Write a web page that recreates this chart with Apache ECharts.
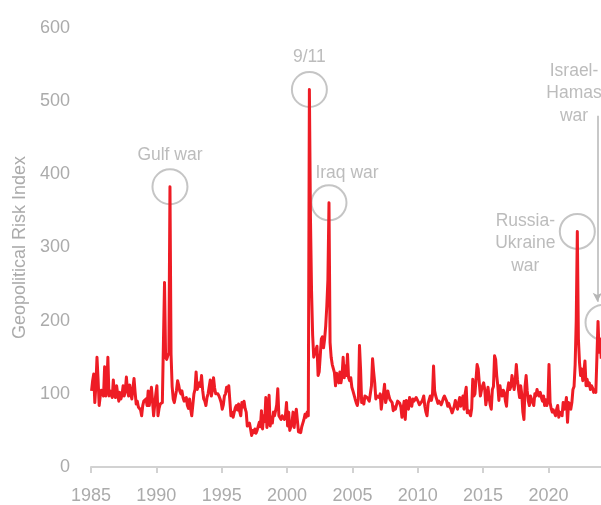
<!DOCTYPE html>
<html>
<head>
<meta charset="utf-8">
<title>Geopolitical Risk Index</title>
<script src="https://cdn.jsdelivr.net/npm/echarts@6/dist/echarts.min.js"></script>
<style>
  html, body { margin: 0; padding: 0; background: #ffffff; }
  #chart { width: 601px; height: 505px; }
</style>
</head>
<body>
<div id="chart"></div>
<script>
// Monthly Geopolitical Risk Index, Jan 1985 onward (one block per five years)
const gpr1985to1989 = [
  104, 118, 127, 88, 112, 150, 120, 84, 97, 105, 100, 97,
  137, 97, 110, 150, 97, 104, 106, 95, 119, 98, 95, 111,
  100, 90, 102, 93, 99, 111, 97, 105, 123, 104, 97, 112,
  100, 93, 108, 121, 102, 86, 90, 82, 84, 78, 70, 84,
  90, 88, 93, 84, 104, 84, 95, 109, 90, 70, 85, 100
];
const gpr1990to1994 = [
  111, 70, 80, 86, 84, 88, 86, 252, 150, 147, 152, 156,
  383, 154, 110, 93, 88, 90, 105, 118, 112, 104, 100, 104,
  95, 90, 92, 95, 84, 80, 93, 79, 70, 72, 100, 106,
  130, 106, 106, 115, 110, 125, 105, 93, 90, 84, 95, 100,
  100, 119, 97, 105, 122, 108, 100, 102, 100, 97, 93, 88
];
const gpr1995to1999 = [
  79, 85, 97, 100, 109, 104, 111, 90, 70, 75, 68, 75,
  81, 84, 78, 86, 76, 70, 88, 82, 90, 80, 75, 56,
  58, 60, 52, 43, 50, 47, 52, 46, 50, 48, 61, 55,
  77, 52, 70, 62, 95, 54, 70, 98, 56, 68, 60, 75,
  70, 77, 85, 107, 70, 72, 65, 70, 68, 65, 70, 88
];
const gpr2000to2004 = [
  56, 75, 50, 52, 60, 75, 54, 68, 79, 77, 48, 50,
  47, 55, 60, 65, 72, 68, 75, 70, 516, 340, 240, 180,
  150, 156, 160, 165, 125, 130, 128, 175, 178, 163, 175, 193,
  220, 256, 361, 170, 150, 140, 138, 129, 111, 128, 120, 115,
  130, 115, 125, 150, 122, 138, 125, 154, 122, 118, 122, 109
];
const gpr2005to2009 = [
  104, 106, 93, 88, 84, 93, 166, 134, 88, 93, 86, 97,
  97, 95, 93, 90, 88, 111, 148, 130, 115, 93, 97, 95,
  95, 100, 79, 92, 100, 113, 88, 95, 104, 97, 92, 90,
  88, 77, 82, 79, 85, 90, 88, 87, 82, 68, 80, 90,
  65, 91, 85, 79, 95, 88, 83, 93, 90, 91, 95, 92
];
const gpr2010to2014 = [
  89, 85, 83, 89, 92, 97, 83, 75, 70, 87, 92, 97,
  91, 98, 138, 104, 97, 92, 87, 90, 91, 85, 89, 94,
  97, 98, 90, 83, 87, 82, 79, 74, 78, 83, 91, 85,
  79, 88, 95, 83, 90, 97, 79, 100, 109, 74, 77, 79,
  70, 80, 120, 97, 100, 102, 140, 134, 115, 97, 105, 111
];
const gpr2015to2019 = [
  115, 106, 85, 95, 109, 95, 85, 79, 106, 110, 152, 147,
  125, 111, 91, 111, 100, 97, 105, 102, 90, 83, 106, 115,
  106, 110, 125, 115, 106, 118, 140, 120, 106, 95, 111, 100,
  75, 65, 110, 125, 104, 90, 84, 97, 95, 88, 84, 100,
  97, 106, 100, 97, 102, 95, 90, 97, 84, 92, 84, 90
];
const gpr2020to2024 = [
  140, 88, 80, 75, 78, 79, 70, 79, 84, 68, 75, 77,
  70, 88, 79, 84, 95, 61, 88, 85, 79, 88, 106, 110,
  140, 200, 322, 175, 143, 125, 134, 118, 130, 145, 111, 120,
  111, 115, 106, 111, 108, 102, 106, 102, 100, 199, 157, 175,
  148
];

// Events marked on the chart: label text and month of the spike
const eventLabels = ['Gulf war', '9/11', 'Iraq war', 'Russia-\nUkraine\nwar', 'Israel-\nHamas\nwar'];
const eventMonths = ['1991-01', '2001-09', '2003-03', '2022-03', '2023-10'];

// Axis ticks
const yTicks = [0, 100, 200, 300, 400, 500, 600];
const xTickYears = [1985, 1990, 1995, 2000, 2005, 2010, 2015, 2020];

// Join the blocks into one series of [decimal year, value] points (mid-month)
const blocks = [
  [1985, gpr1985to1989], [1990, gpr1990to1994], [1995, gpr1995to1999],
  [2000, gpr2000to2004], [2005, gpr2005to2009], [2010, gpr2010to2014],
  [2015, gpr2015to2019], [2020, gpr2020to2024]
];
const points = [];
blocks.forEach(([startYear, values]) => {
  values.forEach((v, i) => points.push([startYear + (i + 0.5) / 12, v]));
});

function monthIndex(ym) {
  const [y, m] = ym.split('-').map(Number);
  return (y - 1985) * 12 + (m - 1);
}

// Per-event placement of the label around its circle
const labelOffsets = [[0, -32], [0, -32], [18, -30], [-52, 12], [-29, -229]];
const symbolOffsets = [[0, 0], [0, 0], [0, 0], [0, 0], [5, 1]];

const eventData = eventMonths.map((ym, k) => {
  const p = points[monthIndex(ym)];
  return {
    value: [p[0], p[1]],
    symbolOffset: symbolOffsets[k],
    label: { formatter: eventLabels[k], offset: labelOffsets[k] }
  };
});
const lastEvent = eventData[eventData.length - 1].value;

const grey = '#ababab';
const chart = echarts.init(document.getElementById('chart'), null, { renderer: 'canvas' });
chart.setOption({
  animation: false,
  backgroundColor: '#ffffff',
  textStyle: { fontFamily: '"Liberation Sans", Arial, sans-serif' },
  grid: { left: 91, top: 28, bottom: 37, right: 0, containLabel: false },
  xAxis: {
    type: 'value',
    min: 1985,
    max: 2024.02,
    interval: 5,
    axisLine: { show: true, lineStyle: { color: '#d2d2d2', width: 2 } },
    axisTick: { show: true, length: 6, lineStyle: { color: '#d2d2d2', width: 2 } },
    splitLine: { show: false },
    axisLabel: {
      color: grey, fontSize: 18, margin: 20, showMaxLabel: false,
      formatter: v => (xTickYears.includes(v) ? String(v) : '')
    }
  },
  yAxis: {
    type: 'value',
    min: yTicks[0],
    max: yTicks[yTicks.length - 1],
    interval: 100,
    name: 'Geopolitical Risk Index',
    nameLocation: 'middle',
    nameGap: 61,
    nameTextStyle: { color: grey, fontSize: 18 },
    axisLine: { show: false },
    axisTick: { show: false },
    splitLine: { show: false },
    axisLabel: { color: grey, fontSize: 18, margin: 21 }
  },
  series: [
    {
      type: 'scatter',
      data: eventData,
      symbol: 'circle',
      symbolSize: 35,
      z: 2,
      silent: true,
      itemStyle: { color: 'rgba(255,255,255,0)', borderColor: '#b6b6b6', borderWidth: 2 },
      label: {
        show: true,
        position: 'inside',
        color: grey,
        fontSize: 17.5,
        lineHeight: 22.5,
        align: 'center',
        verticalAlign: 'middle'
      },
      markLine: {
        silent: true,
        symbol: ['none', 'arrow'],
        symbolSize: [7, 9],
        lineStyle: { color: '#b6b6b6', width: 1.5, type: 'solid' },
        label: { show: false },
        data: [[
          { coord: [lastEvent[0] - 0.05, 480] },
          { coord: [lastEvent[0] - 0.05, lastEvent[1] + 27] }
        ]]
      }
    },
    {
      type: 'line',
      data: points,
      symbol: 'none',
      showSymbol: false,
      z: 3,
      silent: true,
      lineStyle: { color: '#ee1c25', width: 3, join: 'round' }
    }
  ]
});
</script>
</body>
</html>
